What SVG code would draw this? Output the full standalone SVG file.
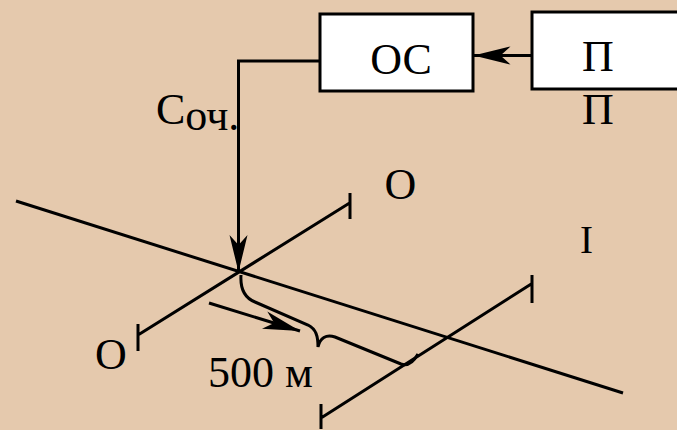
<svg xmlns="http://www.w3.org/2000/svg" width="677" height="430" viewBox="0 0 677 430">
<style>
.ln{fill:none;stroke:#000;stroke-width:3}
.box{fill:#fff;stroke:#000;stroke-width:3}
.t{font-family:'Liberation Serif','DejaVu Serif',serif;font-size:44px;fill:#000}
</style>
<defs>
<marker id="ah" viewBox="-40 -10 41 20" refX="0" refY="0" markerWidth="41" markerHeight="20" markerUnits="userSpaceOnUse" orient="auto">
<path d="M0,0 L-37,-9 L-27,0 L-37,9 Z" fill="#000"/>
</marker>
</defs>
<rect x="0" y="0" width="677" height="430" fill="#E5C9AD"/>
<g id="node-oc">
<rect class="box" x="320" y="14" width="153" height="77"/>
<text class="t" font-family="Liberation Serif, serif" x="401" y="74" text-anchor="middle">ОС</text>
</g>
<g id="node-p">
<rect class="box" x="532" y="12" width="150" height="77"/>
<text class="t" font-family="Liberation Serif, serif" x="598" y="71" text-anchor="middle">П</text>
</g>
<g id="geometry">
<path class="ln" d="M16,201 L623,393"/>
<path class="ln" d="M138,335 L350,202.7 M138,324 V351 M350,193 V219"/>
<path class="ln" d="M321,418 L532,283.5 M321,404 V429 M532,275 V303"/>
<path class="ln" d="M241,275 C240,290 245,298 255,302 L308,325 C316,329 318,336 318,347 C320,338 326,334 335,337 L401,364 C409,367 414,361 418,354"/>
</g>
<g id="connectors">
<path class="ln" d="M320,61 H238.5 V272" marker-end="url(#ah)"/>
<path class="ln" d="M532,55.5 H473.5" marker-end="url(#ah)"/>
<path class="ln" d="M209,303 L300,331" marker-end="url(#ah)"/>
</g>
<g id="labels">
<text class="t" font-family="Liberation Serif, serif" x="156" y="124">С<tspan dy="6">оч.</tspan></text>
<text class="t" font-family="Liberation Serif, serif" x="598" y="124" text-anchor="middle">П</text>
<text class="t" font-family="Liberation Serif, serif" x="400.5" y="199" text-anchor="middle">О</text>
<text class="t" font-family="Liberation Serif, serif" x="586.5" y="253" text-anchor="middle" style="font-size:39px">I</text>
<text class="t" font-family="Liberation Serif, serif" x="111" y="369" text-anchor="middle">О</text>
<text class="t" font-family="Liberation Serif, serif" x="208" y="387">500 м</text>
</g>
</svg>
